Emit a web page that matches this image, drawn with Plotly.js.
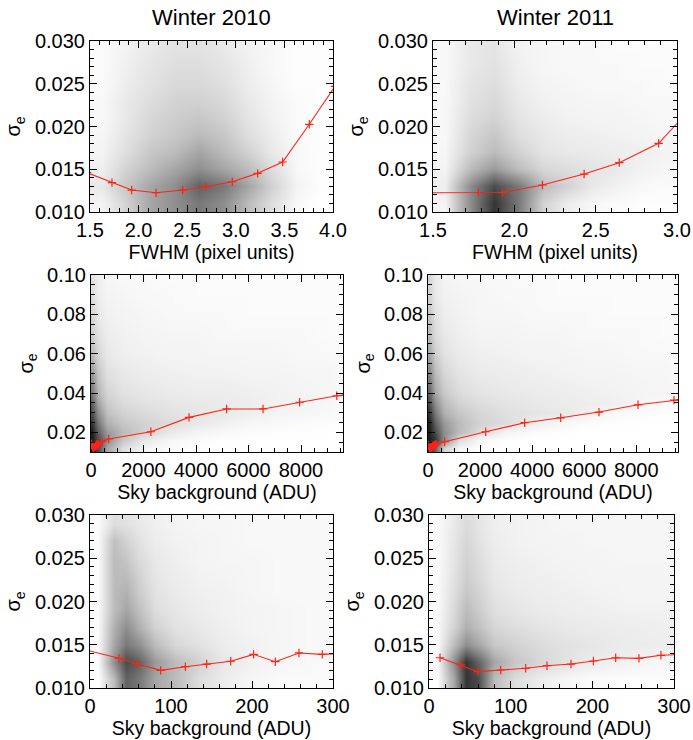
<!DOCTYPE html>
<html>
<head>
<meta charset="utf-8">
<script src="https://cdn.plot.ly/plotly-3.0.1.min.js"></script>
<style>html,body{margin:0;padding:0;background:#fff;}#chart{width:693px;height:740px;}</style>
</head>
<body>
<div id="chart"></div>
<script>
// ---------------- DATA ----------------
const panelTitles = ["Winter 2010", "Winter 2011"];
const xTitleFWHM = "FWHM (pixel units)";
const xTitleSky = "Sky background (ADU)";
const yTitle = "σ<sub>e</sub>";

// Binned mean curves (red lines)
const fwhm2010_x = [1.47, 1.726, 1.929, 2.179, 2.453, 2.693, 2.964, 3.225, 3.482, 3.756, 4.02];
const fwhm2010_y = [0.0146, 0.01343, 0.01257, 0.01226, 0.01257, 0.01296, 0.01354, 0.01452, 0.01585, 0.02026, 0.0247];
const fwhm2011_x = [1.45, 1.779, 1.927, 2.173, 2.429, 2.645, 2.887, 3.12];
const fwhm2011_y = [0.01225, 0.01228, 0.01228, 0.01316, 0.01444, 0.01577, 0.01803, 0.0228];

const skyWide2010_x = [15, 35.8, 57.6, 87.2, 117.7, 144, 173.7, 202, 228.8, 258, 286.8, 420, 672, 2281, 3734, 5165, 6555, 7947, 9363, 9700];
const skyWide2010_y = [0.0142, 0.01343, 0.01281, 0.01204, 0.01246, 0.01277, 0.01309, 0.01389, 0.01304, 0.01405, 0.01389, 0.0152, 0.0166, 0.0203, 0.0276, 0.0319, 0.0319, 0.0353, 0.0386, 0.0389];
const skyWide2011_x = [13.5, 38.8, 60, 87.8, 118.4, 144.5, 173.9, 201.3, 228.6, 257.1, 284, 312, 641, 2216, 3713, 5096, 6566, 8064, 9446, 9700];
const skyWide2011_y = [0.0135, 0.01266, 0.01189, 0.01208, 0.01228, 0.01258, 0.01277, 0.01312, 0.0135, 0.01343, 0.01378, 0.0139, 0.0152, 0.0203, 0.0249, 0.0274, 0.0303, 0.0340, 0.0364, 0.0366];

const skyLow2010_x = [-5, 35.8, 57.6, 87.2, 117.7, 144, 173.7, 202, 228.8, 258, 286.8, 316];
const skyLow2010_y = [0.0144, 0.01343, 0.01281, 0.01204, 0.01246, 0.01277, 0.01309, 0.01389, 0.01304, 0.01405, 0.01389, 0.0140];
const skyLow2011_x = [13.5, 38.8, 60, 87.8, 118.4, 144.5, 173.9, 201.3, 228.6, 257.1, 284, 312];
const skyLow2011_y = [0.0135, 0.01266, 0.01189, 0.01208, 0.01228, 0.01258, 0.01277, 0.01312, 0.0135, 0.01343, 0.01378, 0.0139];

// Point-cloud density (relative darkness 0-10)
const densFwhm2010_x = [1.625, 1.875, 2.125, 2.375, 2.625, 2.875, 3.125, 3.375, 3.625, 3.875];
const densFwhm2010_y = [0.011, 0.013, 0.015, 0.017, 0.019, 0.021, 0.023, 0.025, 0.027, 0.029];
const densFwhm2010_z = [
  [0.5, 2, 4, 5, 6, 5, 3, 1.5, 0.3, 0],
  [1, 2.5, 4, 5, 7, 6, 4, 2, 0.5, 0.1],
  [0.7, 2, 3, 4, 5, 4, 3, 1.5, 0.3, 0.1],
  [0.5, 1.5, 2.5, 3, 4, 3, 2, 1, 0.3, 0.1],
  [0.4, 1.2, 2, 2.5, 3, 2.5, 1.5, 0.8, 0.2, 0.1],
  [0.3, 1, 1.8, 2.2, 2.5, 2, 1.2, 0.6, 0.2, 0.1],
  [0.3, 1, 1.5, 2, 2, 1.7, 1, 0.5, 0.2, 0.1],
  [0.2, 0.8, 1.3, 1.7, 1.7, 1.4, 0.8, 0.4, 0.1, 0.1],
  [0.2, 0.7, 1.2, 1.5, 1.5, 1.2, 0.7, 0.3, 0.1, 0.1],
  [0.2, 0.6, 1.0, 1.3, 1.3, 1.0, 0.6, 0.3, 0.1, 0.1]
];
const densFwhm2011_x = [1.575, 1.725, 1.875, 2.025, 2.175, 2.325, 2.475, 2.625, 2.775, 2.925];
const densFwhm2011_y = [0.011, 0.013, 0.015, 0.017, 0.019, 0.021, 0.023, 0.025, 0.027, 0.029];
const densFwhm2011_z = [
  [0.5, 5, 9, 6, 2, 0.8, 0.4, 0.2, 0.1, 0.1],
  [0.8, 5, 8, 6, 3, 2, 1, 0.6, 0.3, 0.2],
  [0.5, 3, 4.5, 3, 1.8, 1.5, 1.2, 1, 0.6, 0.4],
  [0.4, 2, 3, 2, 1.2, 1, 0.9, 0.8, 0.7, 0.5],
  [0.3, 1.8, 2.5, 1.5, 1, 0.8, 0.7, 0.6, 0.5, 0.4],
  [0.3, 1.5, 2, 1.2, 0.8, 0.6, 0.5, 0.5, 0.4, 0.3],
  [0.3, 1.3, 1.7, 1, 0.6, 0.5, 0.4, 0.4, 0.3, 0.3],
  [0.3, 1.2, 1.5, 0.8, 0.5, 0.4, 0.3, 0.3, 0.3, 0.2],
  [0.3, 1, 1.3, 0.7, 0.4, 0.3, 0.3, 0.3, 0.2, 0.2],
  [0.3, 1, 1.2, 0.6, 0.4, 0.3, 0.3, 0.2, 0.2, 0.2]
];
const densSkyWide_x = [50, 250, 600, 1200, 2000, 3000, 4000, 5000, 6000, 7000, 8000, 9000, 9600];
const densSkyWide_y = [0.012, 0.016, 0.02, 0.025, 0.03, 0.035, 0.04, 0.05, 0.06, 0.07, 0.08, 0.09, 0.10];
const densSkyWide2010_z = [
  [10, 8, 4, 1.5, 0.5, 0.2, 0.1, 0, 0, 0, 0, 0, 0],
  [10, 8, 5, 2.5, 1, 0.4, 0.2, 0.1, 0.05, 0, 0, 0, 0],
  [10, 7, 4.5, 3, 2, 1, 0.5, 0.3, 0.2, 0.1, 0.1, 0.05, 0],
  [9, 6, 3.5, 2.5, 2, 1.5, 1, 0.7, 0.4, 0.3, 0.2, 0.1, 0.1],
  [8, 5, 2.8, 2, 1.6, 1.3, 1.1, 1, 0.7, 0.5, 0.4, 0.3, 0.2],
  [7, 4, 2.3, 1.6, 1.3, 1.1, 1, 0.9, 0.8, 0.6, 0.5, 0.4, 0.3],
  [6, 3.2, 1.9, 1.3, 1.1, 0.9, 0.8, 0.8, 0.7, 0.6, 0.5, 0.4, 0.4],
  [4.5, 2.5, 1.4, 1, 0.8, 0.7, 0.6, 0.6, 0.5, 0.5, 0.4, 0.4, 0.3],
  [3, 1.8, 1, 0.7, 0.6, 0.5, 0.5, 0.4, 0.4, 0.4, 0.3, 0.3, 0.3],
  [2.2, 1.3, 0.8, 0.6, 0.5, 0.4, 0.4, 0.3, 0.3, 0.3, 0.3, 0.2, 0.2],
  [1.8, 1, 0.6, 0.5, 0.4, 0.3, 0.3, 0.3, 0.2, 0.2, 0.2, 0.2, 0.2],
  [1.5, 0.8, 0.5, 0.4, 0.3, 0.3, 0.2, 0.2, 0.2, 0.2, 0.2, 0.2, 0.2],
  [1.3, 0.7, 0.4, 0.3, 0.3, 0.2, 0.2, 0.2, 0.2, 0.2, 0.2, 0.2, 0.2]
];
const densSkyWide2011_z = [
  [10, 7, 2, 0.5, 0.1, 0, 0, 0, 0, 0, 0, 0, 0],
  [10, 9, 5, 1.5, 0.3, 0.1, 0, 0, 0, 0, 0, 0, 0],
  [10, 8, 5, 3, 1.5, 0.5, 0.2, 0.1, 0, 0, 0, 0, 0],
  [10, 7, 4.5, 3, 2, 1.5, 0.8, 0.4, 0.2, 0.1, 0.05, 0, 0],
  [9, 6, 3.5, 2.5, 1.8, 1.4, 1.2, 1, 0.7, 0.3, 0.2, 0.1, 0.1],
  [8, 5, 3, 2, 1.5, 1.2, 1, 0.9, 0.8, 0.7, 0.5, 0.3, 0.2],
  [7, 4, 2.4, 1.6, 1.2, 1, 0.9, 0.8, 0.7, 0.6, 0.5, 0.4, 0.4],
  [5.5, 3, 1.8, 1.2, 0.9, 0.8, 0.7, 0.6, 0.5, 0.5, 0.4, 0.4, 0.3],
  [4, 2.2, 1.3, 0.9, 0.7, 0.6, 0.5, 0.5, 0.4, 0.4, 0.3, 0.3, 0.3],
  [3, 1.6, 1, 0.7, 0.5, 0.5, 0.4, 0.4, 0.3, 0.3, 0.3, 0.2, 0.2],
  [2.5, 1.3, 0.8, 0.6, 0.4, 0.4, 0.3, 0.3, 0.3, 0.2, 0.2, 0.2, 0.2],
  [2, 1, 0.6, 0.5, 0.4, 0.3, 0.3, 0.2, 0.2, 0.2, 0.2, 0.2, 0.2],
  [1.8, 0.9, 0.5, 0.4, 0.3, 0.3, 0.2, 0.2, 0.2, 0.2, 0.2, 0.2, 0.2]
];
const densSkyLow_x = [10, 30, 45, 60, 80, 105, 135, 165, 200, 240, 280];
const densSkyLow_y = [0.011, 0.013, 0.015, 0.017, 0.019, 0.021, 0.023, 0.025, 0.027, 0.029];
const densSkyLow2010_z = [
  [0, 3, 7, 6, 4, 3, 1.5, 0.8, 0.4, 0.2, 0.2],
  [0.2, 5, 8, 7, 4.5, 3, 2, 1, 0.6, 0.4, 0.3],
  [0.2, 4, 6, 5, 3, 1.8, 1.3, 0.8, 0.6, 0.4, 0.3],
  [0.2, 3.5, 5, 3.5, 2, 1.3, 1, 0.7, 0.5, 0.4, 0.3],
  [0.2, 3, 4, 2.8, 1.5, 1.1, 0.8, 0.6, 0.5, 0.4, 0.3],
  [0.2, 3, 3.5, 2.3, 1.3, 0.9, 0.7, 0.6, 0.4, 0.3, 0.3],
  [0.2, 3, 3, 2, 1.1, 0.8, 0.6, 0.5, 0.4, 0.3, 0.3],
  [0.2, 3, 2.5, 1.6, 1, 0.7, 0.5, 0.4, 0.4, 0.3, 0.3],
  [0.2, 2.8, 2, 1.3, 0.8, 0.6, 0.5, 0.4, 0.3, 0.3, 0.3],
  [0.2, 1.5, 1.3, 1, 0.7, 0.5, 0.4, 0.4, 0.3, 0.3, 0.3]
];
const densSkyLow2011_z = [
  [0, 4, 9, 8, 3, 1.5, 0.8, 0.4, 0.2, 0.1, 0.1],
  [0.2, 5, 9, 7, 4, 2.5, 1.8, 1.3, 0.8, 0.6, 0.4],
  [0.2, 3, 5, 4, 2.5, 2, 1.6, 1.3, 1.1, 0.9, 0.8],
  [0.2, 2, 3.5, 2.8, 1.8, 1.5, 1.2, 1, 0.9, 0.8, 0.7],
  [0.2, 1.7, 3, 2.3, 1.4, 1.1, 0.9, 0.8, 0.7, 0.6, 0.6],
  [0.2, 1.5, 2.5, 2, 1.2, 0.9, 0.8, 0.7, 0.6, 0.5, 0.5],
  [0.2, 1.3, 2.2, 1.7, 1, 0.8, 0.7, 0.6, 0.5, 0.5, 0.5],
  [0.2, 1.2, 2, 1.5, 0.9, 0.7, 0.6, 0.5, 0.5, 0.4, 0.4],
  [0.2, 1.1, 1.8, 1.3, 0.8, 0.6, 0.5, 0.5, 0.4, 0.4, 0.4],
  [0.2, 1, 1.6, 1.2, 0.7, 0.6, 0.5, 0.4, 0.4, 0.4, 0.4]
];

// ---------------- LAYOUT / STYLE ----------------
const W = 693, H = 740;
const FONT = "Liberation Sans, Arial, Helvetica, sans-serif";
const RED = "rgb(255,35,20)";
// panel boxes in pixels: [left, right, top, bottom]
const boxes = [
  [90, 333, 41, 212], [433, 677, 41, 212],
  [91, 343, 275, 452], [428, 678, 275, 452],
  [90, 333, 515, 688], [429, 674, 515, 688]
];
const xRanges = [[1.5, 4.0], [1.5, 3.0], [0, 9600], [0, 9600], [0, 300], [0, 300]];
const yRanges = [[0.010, 0.030], [0.010, 0.030], [0.01, 0.10], [0.01, 0.10], [0.010, 0.030], [0.010, 0.030]];
const xDticks = [0.5, 0.5, 2000, 2000, 100, 100];
const xMinor = [0.1, 0.1, 500, 500, 20, 20];
const yDticks = [0.005, 0.005, 0.02, 0.02, 0.005, 0.005];
const yMinor = [0.001, 0.001, 0.005, 0.005, 0.001, 0.001];
const xFormats = [".1f", ".1f", "d", "d", "d", "d"];
const yFormats = [".3f", ".3f", ".2f", ".2f", ".3f", ".3f"];
const xTitles = [xTitleFWHM, xTitleFWHM, xTitleSky, xTitleSky, xTitleSky, xTitleSky];

const curves = [
  [fwhm2010_x, fwhm2010_y], [fwhm2011_x, fwhm2011_y],
  [skyWide2010_x, skyWide2010_y], [skyWide2011_x, skyWide2011_y],
  [skyLow2010_x, skyLow2010_y], [skyLow2011_x, skyLow2011_y]
];
const clouds = [
  [densFwhm2010_x, densFwhm2010_y, densFwhm2010_z],
  [densFwhm2011_x, densFwhm2011_y, densFwhm2011_z],
  [densSkyWide_x, densSkyWide_y, densSkyWide2010_z],
  [densSkyWide_x, densSkyWide_y, densSkyWide2011_z],
  [densSkyLow_x, densSkyLow_y, densSkyLow2010_z],
  [densSkyLow_x, densSkyLow_y, densSkyLow2011_z]
];

const traces = [];
const layout = {
  width: W, height: H,
  margin: {l: 0, r: 0, t: 0, b: 0},
  paper_bgcolor: "#fff", plot_bgcolor: "#fff",
  showlegend: false,
  font: {family: FONT, size: 20, color: "#000"},
  annotations: []
};

for (let i = 0; i < 6; i++) {
  const sfx = i === 0 ? "" : String(i + 1);
  const xa = "x" + sfx, ya = "y" + sfx;
  const c = clouds[i];
  traces.push({
    type: "heatmap", x: c[0], y: c[1], z: c[2], xaxis: xa, yaxis: ya,
    zmin: 0, zmax: 10, zsmooth: "best", showscale: false, hoverinfo: "skip",
    colorscale: [[0, "rgb(255,255,255)"], [1, "rgb(30,30,30)"]]
  });
  traces.push({
    type: "scatter", mode: "lines+markers", x: curves[i][0], y: curves[i][1],
    xaxis: xa, yaxis: ya,
    line: {color: RED, width: 1.1},
    marker: {symbol: "cross-thin", size: 6, color: RED, line: {color: RED, width: 1.2}},
    cliponaxis: true
  });
  const b = boxes[i];
  const common = {
    showline: true, linecolor: "#000", linewidth: 1, mirror: "ticks",
    ticks: "inside", ticklen: 7, tickwidth: 1, tickcolor: "#000",
    showgrid: false, zeroline: false, fixedrange: true,
    tickfont: {family: FONT, size: 20, color: "#000"}
  };
  layout["xaxis" + sfx] = Object.assign({}, common, {
    domain: [b[0] / W, b[1] / W], anchor: ya, range: xRanges[i],
    dtick: xDticks[i], tick0: 0, tickformat: xFormats[i],
    minor: {ticks: "inside", ticklen: 4, dtick: xMinor[i], tick0: 0, tickcolor: "#000", showgrid: false},
    title: {text: xTitles[i], font: {family: FONT, size: 19.5, color: "#000"}, standoff: 1}
  });
  layout["yaxis" + sfx] = Object.assign({}, common, {
    domain: [1 - b[3] / H, 1 - b[2] / H], anchor: xa, range: yRanges[i],
    dtick: yDticks[i], tick0: 0, tickformat: yFormats[i],
    minor: {ticks: "inside", ticklen: 4, dtick: yMinor[i], tick0: 0, tickcolor: "#000", showgrid: false},
    title: {text: yTitle, font: {family: FONT, size: 20, color: "#000"}, standoff: 8}
  });
}

layout.annotations.push(
  {text: panelTitles[0], xref: "paper", yref: "paper", x: 211.5 / W, y: 1 - 18 / H,
   showarrow: false, font: {family: FONT, size: 22, color: "#000"}, xanchor: "center", yanchor: "middle"},
  {text: panelTitles[1], xref: "paper", yref: "paper", x: 555 / W, y: 1 - 18 / H,
   showarrow: false, font: {family: FONT, size: 22, color: "#000"}, xanchor: "center", yanchor: "middle"}
);

Plotly.newPlot("chart", traces, layout, {staticPlot: true, displayModeBar: false});
</script>
</body>
</html>
